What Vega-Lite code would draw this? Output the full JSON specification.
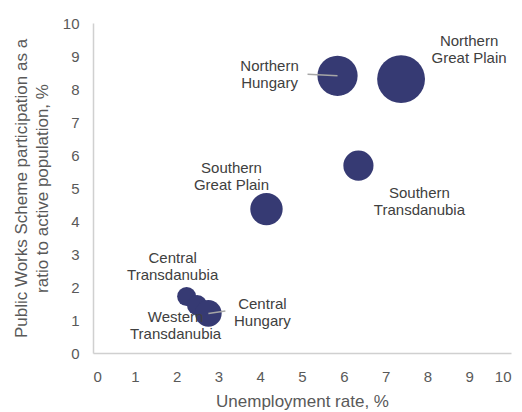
{
  "$schema": "https://vega.github.io/schema/vega-lite/v6.json",
  "autosize": "none",
  "width": 418,
  "height": 330,
  "padding": {"left": 93, "top": 23, "right": 11, "bottom": 59},
  "config": {
    "view": {"stroke": null},
    "font": "Liberation Sans",
    "axis": {
      "grid": false, "ticks": false, "domainColor": "#d0d0d0", "domainWidth": 1.5,
      "labelColor": "#595959", "labelFontSize": 15, "labelFont": "Liberation Sans",
      "titleColor": "#595959", "titleFontSize": 17, "titleFontWeight": "normal", "titleFont": "Liberation Sans"
    }
  },
  "data": {
    "values": [
      {"region": "Northern Great Plain", "label": "Northern\nGreat Plain", "unemployment": 7.37, "participation": 8.3, "bubble": 73},
      {"region": "Northern Hungary", "label": "Northern\nHungary", "unemployment": 5.85, "participation": 8.4, "bubble": 51.5},
      {"region": "Southern Transdanubia", "label": "Southern\nTransdanubia", "unemployment": 6.35, "participation": 5.68, "bubble": 29},
      {"region": "Southern Great Plain", "label": "Southern\nGreat Plain", "unemployment": 4.15, "participation": 4.36, "bubble": 33.5},
      {"region": "Central Transdanubia", "label": "Central\nTransdanubia", "unemployment": 2.24, "participation": 1.71, "bubble": 11.5},
      {"region": "Western Transdanubia", "label": "Western\nTransdanubia", "unemployment": 2.49, "participation": 1.45, "bubble": 13},
      {"region": "Central Hungary", "label": "Central\nHungary", "unemployment": 2.76, "participation": 1.2, "bubble": 22.5}
    ]
  },
  "encoding": {
    "x": {"field": "unemployment", "type": "quantitative", "scale": {"domain": [0, 10], "nice": false},
      "axis": {"values": [0,1,2,3,4,5,6,7,8,9,10], "labelPadding": 16, "title": "Unemployment rate, %", "titlePadding": 9}},
    "y": {"field": "participation", "type": "quantitative", "scale": {"domain": [0, 10], "nice": false},
      "axis": {"values": [0,1,2,3,4,5,6,7,8,9,10], "labelPadding": 14, "title": ["Public Works Scheme participation as a", "ratio to active population, %"], "titlePadding": 11, "titleLineHeight": 21}}
  },
  "layer": [
    {
      "mark": {"type": "circle", "opacity": 1, "color": "#363a73"},
      "encoding": {
        "size": {"field": "bubble", "type": "quantitative", "scale": {"type": "linear", "domain": [0, 73], "range": [0, 2290], "zero": true}, "legend": null}
      }
    },
    {
      "transform": [{"filter": "datum.region === 'Northern Hungary'"}],
      "mark": {"type": "rule", "color": "#a6a6a6", "strokeWidth": 1.5, "x2Offset": -30, "y2Offset": -1.5},
      "encoding": {"x2": {"field": "unemployment"}, "y2": {"field": "participation"}}
    },
    {
      "transform": [{"filter": "datum.region === 'Central Hungary'"}],
      "mark": {"type": "rule", "color": "#a6a6a6", "strokeWidth": 1.5, "x2Offset": 17, "y2Offset": -2.5},
      "encoding": {"x2": {"field": "unemployment"}, "y2": {"field": "participation"}}
    },
    {"transform": [{"filter": "datum.region === 'Northern Great Plain'"}],
      "mark": {"type": "text", "lineBreak": "\n", "fontSize": 15, "color": "#404040", "align": "center", "baseline": "middle", "lineHeight": 17, "dx": 68, "dy": -38},
      "encoding": {"text": {"field": "label"}}},
    {"transform": [{"filter": "datum.region === 'Northern Hungary'"}],
      "mark": {"type": "text", "lineBreak": "\n", "fontSize": 15, "color": "#404040", "align": "center", "baseline": "middle", "lineHeight": 17, "dx": -68, "dy": -9.5},
      "encoding": {"text": {"field": "label"}}},
    {"transform": [{"filter": "datum.region === 'Southern Great Plain'"}],
      "mark": {"type": "text", "lineBreak": "\n", "fontSize": 15, "color": "#404040", "align": "center", "baseline": "middle", "lineHeight": 17, "dx": -35, "dy": -41.5},
      "encoding": {"text": {"field": "label"}}},
    {"transform": [{"filter": "datum.region === 'Southern Transdanubia'"}],
      "mark": {"type": "text", "lineBreak": "\n", "fontSize": 15, "color": "#404040", "align": "center", "baseline": "middle", "lineHeight": 17, "dx": 61, "dy": 27},
      "encoding": {"text": {"field": "label"}}},
    {"transform": [{"filter": "datum.region === 'Central Transdanubia'"}],
      "mark": {"type": "text", "lineBreak": "\n", "fontSize": 15, "color": "#404040", "align": "center", "baseline": "middle", "lineHeight": 17, "dx": -14, "dy": -39},
      "encoding": {"text": {"field": "label"}}},
    {"transform": [{"filter": "datum.region === 'Central Hungary'"}],
      "mark": {"type": "text", "lineBreak": "\n", "fontSize": 15, "color": "#404040", "align": "center", "baseline": "middle", "lineHeight": 17, "dx": 54, "dy": -9.5},
      "encoding": {"text": {"field": "label"}}},
    {"transform": [{"filter": "datum.region === 'Western Transdanubia'"}],
      "mark": {"type": "text", "lineBreak": "\n", "fontSize": 15, "color": "#404040", "align": "center", "baseline": "middle", "lineHeight": 17, "dx": -21.5, "dy": 11.5},
      "encoding": {"text": {"field": "label"}}}
  ]
}
